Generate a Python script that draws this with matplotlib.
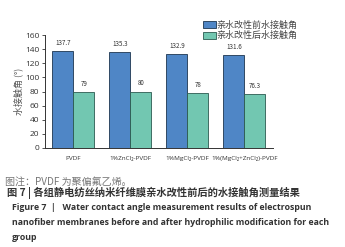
import numpy as np
import matplotlib.pyplot as plt

plt.rcParams['font.family'] = ['Noto Sans CJK SC', 'DejaVu Sans']

groups = ['PVDF', '1%ZnCl₂-PVDF', '1%MgCl₂-PVDF', '1%(MgCl₂+ZnCl₂)-PVDF']
before = [137.7, 135.3, 132.9, 131.6]
after = [79, 80, 78, 76.3]
before_lbl = ['137.7', '135.3', '132.9', '131.6']
after_lbl = ['79', '80', '78', '76.3']
series_names = ['亲水改性前水接触角', '亲水改性后水接触角']

fig = plt.figure(figsize=(3.45, 2.47), dpi=100)
ax = fig.add_axes([0.130, 0.401, 0.661, 0.457])

x = np.arange(len(groups))
w = 0.37
b1 = ax.bar(x - w/2, before, w, color='#4f86c6', edgecolor='#1d3550', linewidth=0.6, label=series_names[0])
b2 = ax.bar(x + w/2, after, w, color='#72c7b1', edgecolor='#2b5a50', linewidth=0.6, label=series_names[1])

for xi, v, s in zip(x - w/2, before, before_lbl):
    ax.text(xi, v + 6, s, ha='center', va='bottom', fontsize=4.5, color='#333333')
for xi, v, s in zip(x + w/2, after, after_lbl):
    ax.text(xi, v + 6, s, ha='center', va='bottom', fontsize=4.5, color='#333333')

ax.set_xlim(-0.5, 3.5)
ax.set_ylim(0, 160)
ax.set_yticks(range(0, 161, 20))
ax.tick_params(axis='y', labelsize=6, length=2, width=0.6, pad=2, colors='#333333')
ax.tick_params(axis='x', length=0, pad=6)
ax.set_xticks(x)
ax.set_xticklabels(groups, fontsize=4.6, color='#333333', family=['Open Sans', 'DejaVu Sans'])
for lab in ax.get_yticklabels():
    lab.set_family(['Open Sans', 'DejaVu Sans'])
ax.spines['top'].set_visible(False)
ax.spines['right'].set_visible(False)
ax.spines['left'].set_linewidth(0.7)
ax.spines['bottom'].set_linewidth(0.7)
ax.spines['left'].set_color('#333333')
ax.spines['bottom'].set_color('#333333')
ax.set_ylabel('水接触角 (°)', fontsize=6.5, color='#555555', labelpad=1)

fig.legend(handles=[b1, b2], labels=series_names, loc='upper left',
           bbox_to_anchor=(0.575, 0.935), frameon=False, fontsize=6.5,
           handlelength=1.4, handleheight=0.8, handletextpad=0.1,
           labelspacing=0.15, borderpad=0, labelcolor='#444444')

fig.text(0.015, 0.263, '图注：PVDF 为聚偏氟乙烯。', fontsize=7.2, color='#777777', va='center')
fig.text(0.02, 0.218, '图 7 | 各组静电纺丝纳米纤维膜亲水改性前后的水接触角测量结果',
         fontsize=7.4, color='#333333', va='center', fontweight='bold')
eng = ['Figure 7  |   Water contact angle measurement results of electrospun',
       'nanofiber membranes before and after hydrophilic modification for each',
       'group']
for i, line in enumerate(eng):
    fig.text(0.035, 0.158 - i * 0.059, line, fontsize=6.3, color='#333333', va='center',
             fontweight='bold', family=['Open Sans', 'DejaVu Sans'])

fig.savefig('out.png', dpi=100)
